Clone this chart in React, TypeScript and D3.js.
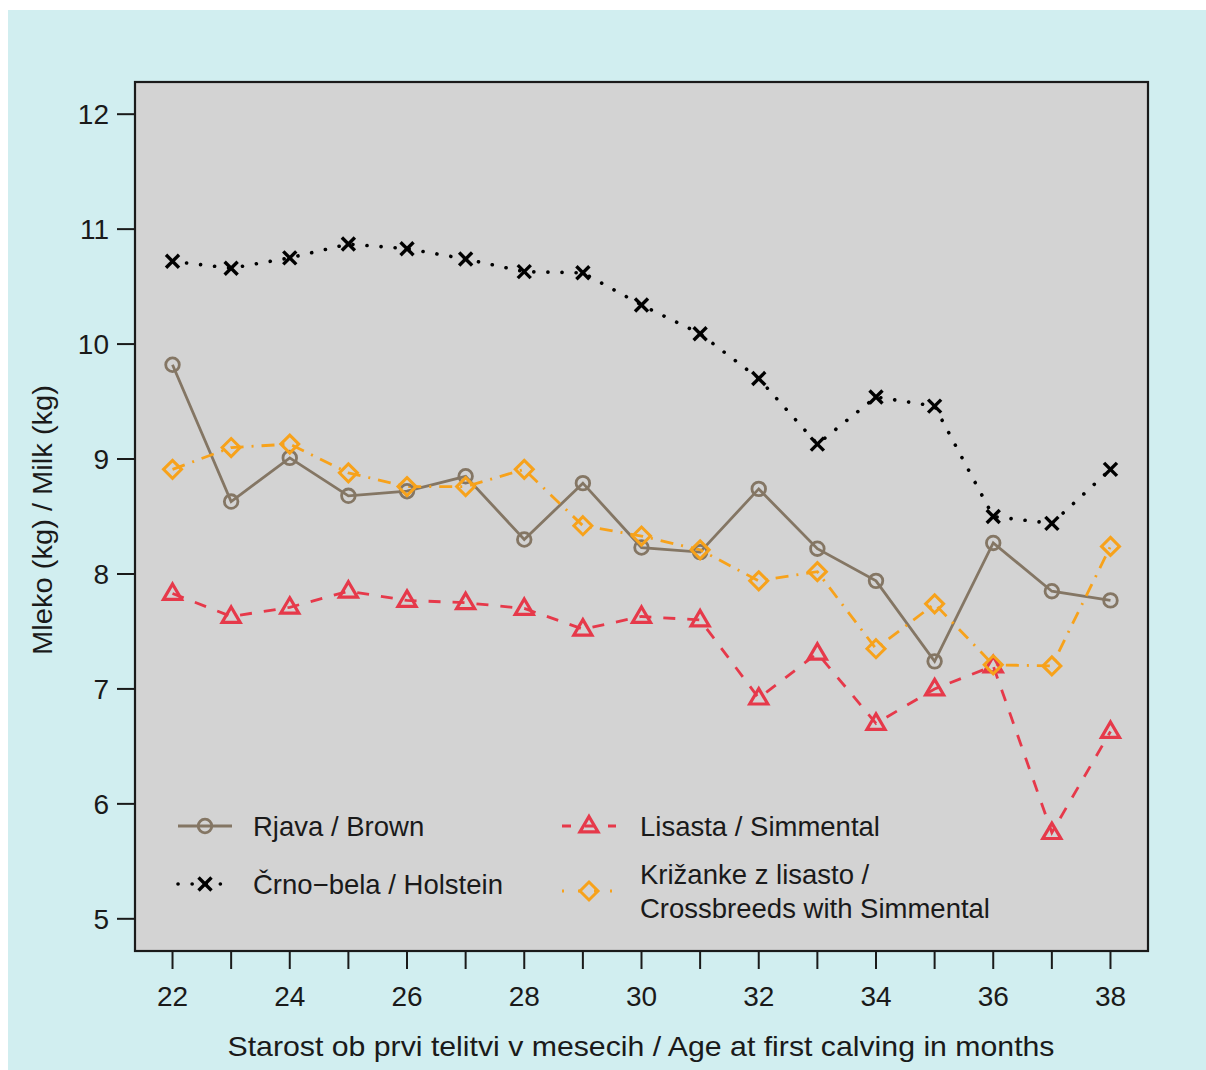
import React from "react";
import * as d3 from "d3";

const ages = [22, 23, 24, 25, 26, 27, 28, 29, 30, 31, 32, 33, 34, 35, 36, 37, 38];
const brown = [9.82, 8.63, 9.01, 8.68, 8.72, 8.85, 8.30, 8.79, 8.23, 8.19, 8.74, 8.22, 7.94, 7.24, 8.27, 7.85, 7.77];
const holstein = [10.72, 10.66, 10.75, 10.87, 10.83, 10.74, 10.63, 10.62, 10.34, 10.09, 9.70, 9.13, 9.54, 9.46, 8.50, 8.44, 8.91];
const simmental = [7.83, 7.63, 7.71, 7.85, 7.77, 7.75, 7.70, 7.52, 7.63, 7.60, 6.92, 7.31, 6.70, 7.00, 7.20, 5.75, 6.63];
const cross = [8.91, 9.10, 9.13, 8.88, 8.76, 8.76, 8.91, 8.42, 8.33, 8.21, 7.94, 8.02, 7.35, 7.74, 7.21, 7.20, 8.24];
const xTicks = [22, 23, 24, 25, 26, 27, 28, 29, 30, 31, 32, 33, 34, 35, 36, 37, 38];
const xLabels = [22, 24, 26, 28, 30, 32, 34, 36, 38];
const yTicks = [5, 6, 7, 8, 9, 10, 11, 12];

const L = 135, R = 1148, T = 82, B = 951;
const FONT = "'Liberation Sans', Arial, Helvetica, sans-serif";
const C_BROWN = "#847664";
const C_BLACK = "#000000";
const C_RED = "#e6394a";
const C_ORANGE = "#f7a21b";
const INK = "#1a1a1a";

type Shape = "circle" | "x" | "tri" | "diamond";

function Marker({ x, y, shape, color }: { x: number; y: number; shape: Shape; color: string }) {
  if (shape === "circle") return <circle cx={x} cy={y} r={6.8} fill="none" stroke={color} strokeWidth={2.8} />;
  if (shape === "x") {
    const s = 6.5;
    return (
      <g stroke={color} strokeWidth={3.4} strokeLinecap="butt">
        <line x1={x - s} y1={y - s} x2={x + s} y2={y + s} />
        <line x1={x - s} y1={y + s} x2={x + s} y2={y - s} />
      </g>
    );
  }
  if (shape === "tri") {
    const s = 9.5;
    const p = `${x},${y - s} ${x + s * 0.95},${y + s * 0.62} ${x - s * 0.95},${y + s * 0.62}`;
    return <polygon points={p} fill="none" stroke={color} strokeWidth={3.2} strokeLinejoin="miter" />;
  }
  const s = 9;
  const p = `${x},${y - s} ${x + s},${y} ${x},${y + s} ${x - s},${y}`;
  return <polygon points={p} fill="none" stroke={color} strokeWidth={3} />;
}

export default function App() {
  const x = d3.scaleLinear().domain([21.36, 38.64]).range([L, R]);
  const y = d3.scaleLinear().domain([4.72, 12.28]).range([B, T]);
  const line = d3.line<number>().x((_, i) => x(ages[i])).y((d) => y(d));

  const series: { data: number[]; color: string; dash: string; shape: Shape; w: number; cap: string; ldash: string }[] = [
    { data: brown, color: C_BROWN, dash: "", shape: "circle", w: 2.8, cap: "butt", ldash: "" },
    { data: holstein, color: C_BLACK, dash: "0.1 14", shape: "x", w: 3.6, cap: "round", ldash: "0.1 14" },
    { data: simmental, color: C_RED, dash: "12 12", shape: "tri", w: 2.8, cap: "butt", ldash: "9 14" },
    { data: cross, color: C_ORANGE, dash: "13 8 2 8", shape: "diamond", w: 2.8, cap: "butt", ldash: "2 14" },
  ];

  const legend = [
    { s: series[0], lx: 178, ly: 826, tx: 253, text: ["Rjava / Brown"] },
    { s: series[1], lx: 178, ly: 884, tx: 253, text: ["Črno−bela / Holstein"] },
    { s: series[2], lx: 562, ly: 826, tx: 640, text: ["Lisasta / Simmental"] },
    { s: series[3], lx: 562, ly: 891, tx: 640, text: ["Križanke z lisasto /", "Crossbreeds with Simmental"] },
  ];

  return (
    <svg width={1206} height={1070} style={{ display: "block", position: "absolute", left: 0, top: 0 }} fontFamily={FONT}>
      <rect x={0} y={0} width={1206} height={1070} fill="#ffffff" />
      <rect x={8} y={10} width={1198} height={1060} fill="#d1eef0" />
      <rect x={L} y={T} width={R - L} height={B - T} fill="#d3d3d3" />
      <defs>
        <clipPath id="clip"><rect x={L} y={T} width={R - L} height={B - T} /></clipPath>
      </defs>
      <g clipPath="url(#clip)">
        {series.map((s, k) => (
          <path key={k} d={line(s.data) || ""} fill="none" stroke={s.color} strokeWidth={s.w}
            strokeDasharray={s.dash || undefined} strokeLinecap={s.cap as any} />
        ))}
        {series.map((s, k) => (
          <g key={"m" + k}>
            {s.data.map((v, i) => (
              <Marker key={i} x={x(ages[i])} y={y(v)} shape={s.shape} color={s.color} />
            ))}
          </g>
        ))}
      </g>
      <rect x={L} y={T} width={R - L} height={B - T} fill="none" stroke={INK} strokeWidth={2.2} />
      {yTicks.map((t) => (
        <g key={"y" + t}>
          <line x1={L} x2={L - 18} y1={y(t)} y2={y(t)} stroke={INK} strokeWidth={2} />
          <text x={L - 26} y={y(t)} dy="0.36em" textAnchor="end" fontSize={28} fill={INK}>{t}</text>
        </g>
      ))}
      {xTicks.map((t) => (
        <line key={"x" + t} x1={x(t)} x2={x(t)} y1={B} y2={B + 18} stroke={INK} strokeWidth={2} />
      ))}
      {xLabels.map((t) => (
        <text key={"xl" + t} x={x(t)} y={1006} textAnchor="middle" fontSize={28} fill={INK}>{t}</text>
      ))}
      <text x={641} y={1056} textAnchor="middle" fontSize={28.5} fill={INK} textLength={827} lengthAdjust="spacingAndGlyphs">
        Starost ob prvi telitvi v mesecih / Age at first calving in months
      </text>
      <text transform={`translate(52,520) rotate(-90)`} textAnchor="middle" fontSize={28.5} fill={INK} textLength={270} lengthAdjust="spacingAndGlyphs">
        Mleko (kg) / Milk (kg)
      </text>
      {legend.map((l, k) => (
        <g key={"lg" + k}>
          <line x1={l.lx} x2={l.lx + 54} y1={l.ly} y2={l.ly} stroke={l.s.color} strokeWidth={l.s.w}
            strokeDasharray={l.s.ldash || undefined} strokeLinecap={l.s.cap as any} />
          <Marker x={l.lx + 27} y={l.ly} shape={l.s.shape} color={l.s.color} />
          {l.text.map((tx, j) => (
            <text key={j} x={l.tx} y={l.ly + (l.text.length > 1 ? (j - 0.5) * 34 : 0)} dy="0.36em" fontSize={27.5} fill={INK}>{tx}</text>
          ))}
        </g>
      ))}
    </svg>
  );
}
